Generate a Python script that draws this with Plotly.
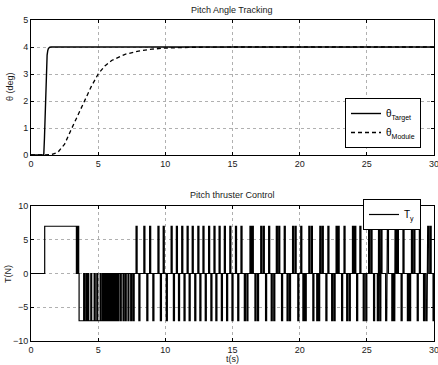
import plotly.graph_objects as go

# ---------------- data ----------------
# Top panel: pitch angle (deg)
target_t = [0, 0.95, 1.0, 1.05, 1.1, 1.15, 1.2, 1.25, 1.3, 1.4, 1.5, 30]
target_theta = [0, 0, 0.6, 1.5, 2.5, 3.3, 3.7, 3.87, 3.95, 3.99, 4.0, 4.0]

module_t = [0, 1.2, 1.5, 2, 2.5, 3, 3.5, 4, 4.5, 5, 5.5, 6, 7, 8, 9, 10, 12, 15, 20, 30]
module_theta = [0, 0, 0.01, 0.1, 0.4, 0.95, 1.5, 2.05, 2.55, 3.0, 3.3, 3.5, 3.73, 3.85,
                3.92, 3.96, 3.99, 4.0, 4.0, 4.0]

# Bottom panel: thruster command T_y (N)
thrust_level = 7
pulse_width = 0.08
# early positive firing (start, end)
pos_intervals = [(1.02, 3.38), (3.42, 3.47), (3.5, 3.55)]
# dense negative firing (start, end)
neg_intervals = [(3.58, 3.92), (3.98, 4.08), (4.14, 4.22), (4.3, 4.45), (4.52, 4.7),
                 (4.78, 4.9), (4.97, 5.15), (5.2, 5.3), (5.35, 5.42), (5.46, 5.55),
                 (5.58, 5.66), (5.7, 5.78), (5.82, 5.9), (5.94, 6.02), (6.06, 6.14),
                 (6.18, 6.26), (6.3, 6.38), (6.46, 6.54), (6.65, 6.72), (6.85, 6.92),
                 (7.02, 7.09), (7.22, 7.29), (7.42, 7.5), (7.6, 7.68)]
# limit-cycle pulses (start times)
pos_starts = [7.82, 8.4, 8.83, 9.45, 9.84, 10.43, 10.82, 11.22, 11.62, 12.0, 12.42, 12.8,
              13.22, 13.62, 14.0, 14.39, 14.8, 15.22, 15.63, 16.3, 16.47, 17.1, 17.29,
              17.69, 18.26, 18.44, 18.85, 19.47, 19.66, 20.08, 20.68, 20.87, 21.5, 21.68,
              22.1, 22.71, 22.86, 23.3, 23.93, 24.1, 24.48, 25.13, 25.31, 25.87, 26.05,
              26.53, 27.1, 27.27, 27.69, 28.32, 28.5, 28.91, 29.53, 29.71]
neg_starts = [8.03, 8.62, 9.07, 9.63, 10.07, 10.6, 10.98, 11.39, 11.77, 12.19, 12.57,
              12.97, 13.39, 13.76, 14.17, 14.56, 14.96, 15.39, 15.88, 16.07, 16.67, 16.86,
              17.46, 17.88, 18.07, 18.65, 19.06, 19.24, 19.86, 20.24, 20.41, 20.98, 21.27,
              21.41, 21.95, 22.38, 22.56, 23.12, 23.5, 23.69, 24.24, 24.73, 24.92, 25.5,
              25.78, 25.96, 26.4, 26.86, 27.0, 27.55, 28.02, 28.18, 28.75, 29.22, 29.4,
              29.93]

x_ticks = [0, 5, 10, 15, 20, 25, 30]
theta_ticks = [0, 1, 2, 3, 4, 5]
thrust_ticks = [-10, -5, 0, 5, 10]

# ---------------- build step signal ----------------
pulses = [(s, e, thrust_level) for s, e in pos_intervals]
pulses += [(s, e, -thrust_level) for s, e in neg_intervals]
pulses += [(s, s + pulse_width, thrust_level) for s in pos_starts]
pulses += [(s, s + pulse_width, -thrust_level) for s in neg_starts]
pulses.sort()
sig_t, sig_y = [0], [0]
for s, e, lv in pulses:
    e = min(e, 30)
    sig_t += [s, s, e, e]
    sig_y += [0, lv, lv, 0]
sig_t.append(30)
sig_y.append(0)

# ---------------- figure ----------------
FONT = "Liberation Sans, Arial, Helvetica, sans-serif"
TXT = "#1a1a1a"
W, H = 438, 365
L, R = 31, 4
top_px, bot_px = 20, 341
pw, ph = W - L - R, bot_px - top_px


def px(p):
    return (p - L) / pw


def py(p):
    return (bot_px - p) / ph


fig = go.Figure()
fig.add_trace(go.Scatter(x=target_t, y=target_theta, mode="lines", name="θ<sub>Target</sub>",
                         line=dict(color="black", width=1.4), xaxis="x", yaxis="y",
                         legend="legend"))
fig.add_trace(go.Scatter(x=module_t, y=module_theta, mode="lines", name="θ<sub>Module</sub>",
                         line=dict(color="black", width=1.3, dash="4px,3px"),
                         xaxis="x", yaxis="y", legend="legend"))
fig.add_trace(go.Scatter(x=sig_t, y=sig_y, mode="lines", name="T<sub>y</sub>",
                         line=dict(color="black", width=1.2), xaxis="x2", yaxis="y2",
                         legend="legend2"))

base_axis = dict(showline=True, linecolor="black", linewidth=1, mirror="ticks",
                 ticks="inside", ticklen=3, tickcolor="black",
                 showgrid=True, gridcolor="#b0b0b0", griddash="dot", gridwidth=1,
                 zeroline=False, ticklabeloverflow="allow",
                 tickfont=dict(family=FONT, size=9, color=TXT))
xaxis_common = dict(range=[0, 30], tickvals=x_ticks, **base_axis)


def ann(text, x, y, angle=0):
    return dict(text=text, x=px(x), y=py(y), xref="paper", yref="paper",
                xanchor="center", yanchor="middle", textangle=angle, showarrow=False,
                font=dict(family=FONT, size=9, color=TXT))


fig.update_layout(
    width=W, height=H,
    margin=dict(l=L, r=R, t=top_px, b=H - bot_px, pad=0, autoexpand=False),
    paper_bgcolor="white", plot_bgcolor="white",
    font=dict(family=FONT, size=9, color=TXT),
    xaxis=dict(domain=[0, 1], anchor="y", **xaxis_common),
    yaxis=dict(domain=[py(155), 1], anchor="x", range=[0, 5], tickvals=theta_ticks,
               **base_axis),
    xaxis2=dict(domain=[0, 1], anchor="y2", **xaxis_common),
    yaxis2=dict(domain=[0, py(206)], anchor="x2", range=[-10, 10], tickvals=thrust_ticks,
                **base_axis),
    showlegend=True,
    legend=dict(x=px(421), y=py(98), xanchor="right", yanchor="top",
                bgcolor="white", bordercolor="black", borderwidth=1,
                font=dict(family=FONT, size=10, color="black"), tracegroupgap=0,
                itemwidth=30),
    legend2=dict(x=px(421), y=py(199), xanchor="right", yanchor="top",
                 bgcolor="white", bordercolor="black", borderwidth=1,
                 font=dict(family=FONT, size=10, color="black"), itemwidth=30),
    annotations=[
        ann("Pitch Angle Tracking", 232, 10),
        ann("Pitch thruster Control", 232, 195),
        ann("θ (deg)", 10, 87, -90),
        ann("T(N)", 8, 274, -90),
        ann("t(s)", 232, 359),
    ],
)

fig.write_html("out.html", config={"displayModeBar": False},
               post_script="document.body.style.margin='0';")
